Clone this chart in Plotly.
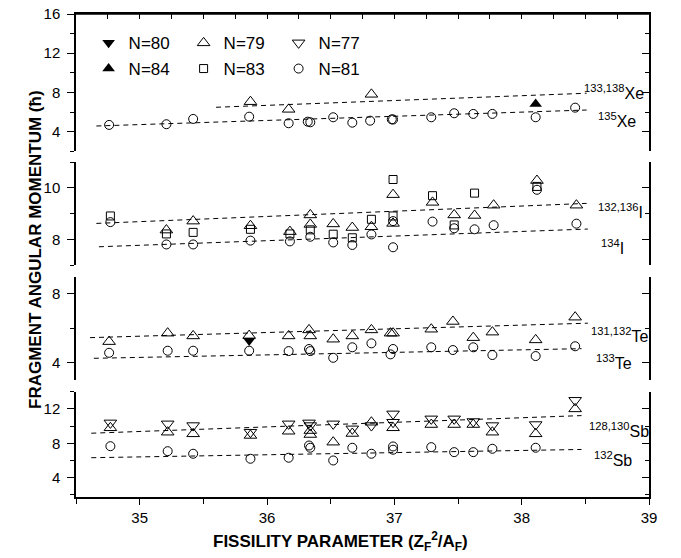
import plotly.graph_objects as go

# ---------------- data ----------------
# Xe panel
xe_x_n81 = [34.76, 35.21, 35.42, 35.86, 36.17, 36.32, 36.34, 36.52, 36.67, 36.81,
            36.98, 36.99, 37.29, 37.47, 37.62, 37.77, 38.11, 38.42]
xe_y_n81 = [4.69, 4.76, 5.30, 5.53, 4.86, 5.02, 4.96, 5.47, 4.92, 5.12,
            5.26, 5.24, 5.47, 5.88, 5.81, 5.81, 5.47, 6.45]
xe_x_n79 = [35.87, 36.17, 36.82]
xe_y_n79 = [7.06, 6.28, 7.81]
xe_x_n84 = [38.11]
xe_y_n84 = [6.83]

# I panel
i_x_n83 = [34.77, 35.21, 35.42, 35.87, 36.18, 36.34, 36.52, 36.67, 36.82, 36.99,
           36.99, 37.30, 37.47, 37.63, 38.12]
i_y_n83 = [8.91, 8.21, 8.27, 8.39, 8.21, 8.37, 8.20, 8.06, 8.78, 10.33,
           8.91, 9.70, 8.56, 9.80, 10.06]
i_x_n79 = [35.21, 35.42, 35.87, 36.18, 36.34, 36.34, 36.52, 36.67, 36.82, 36.99,
           36.99, 37.30, 37.47, 37.63, 37.78, 38.12, 38.43]
i_y_n79 = [8.36, 8.71, 8.53, 8.30, 8.95, 8.58, 8.60, 8.46, 8.49, 9.74,
           8.62, 9.44, 8.95, 8.93, 9.33, 10.29, 9.33]
i_x_n81 = [34.77, 35.21, 35.42, 35.87, 36.18, 36.34, 36.52, 36.67, 36.82, 36.99,
           36.99, 37.30, 37.47, 37.63, 37.78, 38.12, 38.43]
i_y_n81 = [8.67, 7.80, 7.80, 7.95, 7.92, 8.10, 7.88, 7.78, 8.19, 8.71,
           7.69, 8.69, 8.43, 8.39, 8.55, 9.93, 8.61]

# Te panel
te_x_n79 = [34.76, 35.22, 35.42, 35.86, 36.17, 36.33, 36.34, 36.52, 36.67, 36.82,
            36.97, 36.99, 37.29, 37.46, 37.62, 37.77, 38.11, 38.42]
te_y_n79 = [5.23, 5.72, 5.56, 5.58, 5.56, 5.91, 5.56, 5.37, 5.56, 5.91,
            5.72, 5.72, 5.95, 6.40, 5.46, 5.78, 5.33, 6.65]
te_x_n81 = [34.76, 35.22, 35.42, 35.86, 36.17, 36.33, 36.34, 36.52, 36.67, 36.82,
            36.97, 36.99, 37.29, 37.46, 37.62, 37.77, 38.11, 38.42]
te_y_n81 = [4.58, 4.70, 4.70, 4.70, 4.68, 4.80, 4.68, 4.29, 4.90, 5.13,
            4.49, 4.80, 4.90, 4.74, 4.90, 4.45, 4.39, 4.96]
te_x_n80 = [35.86]
te_y_n80 = [5.29]

# Sb panel
sb_x_n77 = [34.77, 35.22, 35.42, 35.87, 36.17, 36.33, 36.34, 36.52, 36.67, 36.82,
            36.99, 36.99, 37.29, 37.47, 37.62, 37.77, 38.11, 38.42]
sb_y_n77 = [10.37, 10.26, 10.06, 9.29, 10.26, 10.37, 10.06, 10.26, 9.68, 10.06,
            11.42, 10.45, 10.84, 10.84, 10.53, 10.06, 10.18, 13.00]
sb_x_n79 = [34.77, 35.22, 35.42, 35.87, 36.17, 36.34, 36.34, 36.52, 36.67, 36.82,
            36.99, 37.29, 37.47, 37.62, 37.77, 38.11, 38.42]
sb_y_n79 = [9.80, 9.29, 9.10, 8.91, 9.40, 9.48, 9.02, 8.13, 9.14, 10.45,
            9.80, 10.18, 10.18, 10.18, 9.29, 9.10, 12.00]
sb_x_n81 = [34.77, 35.22, 35.42, 35.87, 36.17, 36.33, 36.34, 36.52, 36.67, 36.82,
            36.99, 36.99, 37.29, 37.47, 37.62, 37.77, 38.11]
sb_y_n81 = [7.66, 7.08, 6.78, 6.20, 6.32, 7.74, 7.48, 6.00, 7.48, 6.78,
            7.63, 7.25, 7.55, 6.97, 6.97, 7.36, 7.48]

# dashed trend lines (end points)
fit_x = {
    "xe133": [35.60, 38.51], "xe135": [34.66, 38.51],
    "i132": [34.66, 38.51], "i134": [34.68, 38.52],
    "te131": [34.61, 38.52], "te133": [34.64, 38.47],
    "sb128": [34.62, 38.47], "sb132": [34.62, 38.47],
}
fit_y = {
    "xe133": [6.49, 7.92], "xe135": [4.58, 6.21],
    "i132": [8.62, 9.40], "i134": [7.71, 8.40],
    "te131": [5.46, 6.30], "te133": [4.26, 4.82],
    "sb128": [9.17, 11.22], "sb132": [6.32, 7.28],
}
fit_panel = {"xe133": 1, "xe135": 1, "i132": 2, "i134": 2,
             "te131": 3, "te133": 3, "sb128": 4, "sb132": 4}

# isotope labels: (text, panel, x, y)
iso_labels = [
    ("<sup>133,138</sup>Xe", 1, 38.47, 8.05),
    ("<sup>135</sup>Xe", 1, 38.58, 5.2),
    ("<sup>132,136</sup>I", 2, 38.58, 9.1),
    ("<sup>134</sup>I", 2, 38.61, 7.72),
    ("<sup>131,132</sup>Te", 3, 38.53, 5.6),
    ("<sup>133</sup>Te", 3, 38.57, 4.05),
    ("<sup>128,130</sup>Sb", 4, 38.51, 9.5),
    ("<sup>132</sup>Sb", 4, 38.55, 6.15),
]

FONT = "Arial, Liberation Sans, sans-serif"

fig = go.Figure()

def ax(p, kind):
    return kind if p == 1 else f"{kind}{p}"

sym = {
    "n80": dict(symbol="triangle-down", size=11, color="black"),
    "n84": dict(symbol="triangle-up", size=11, color="black"),
    "n79": dict(symbol="triangle-up-open", size=11, color="black", line=dict(width=1)),
    "n83": dict(symbol="square-open", size=8, color="black", line=dict(width=1)),
    "n77": dict(symbol="triangle-down-open", size=11, color="black", line=dict(width=1)),
    "n81": dict(symbol="circle-open", size=9, color="black", line=dict(width=1)),
}

# dashed lines
for k in fit_x:
    p = fit_panel[k]
    fig.add_trace(go.Scatter(x=fit_x[k], y=fit_y[k], mode="lines",
                             line=dict(color="black", width=1, dash="5px,4px"),
                             xaxis=ax(p, "x"), yaxis=ax(p, "y"),
                             showlegend=False, hoverinfo="skip"))

def pts(x, y, p, key, name, legend=None, rank=None):
    fig.add_trace(go.Scatter(x=x, y=y, mode="markers", marker=sym[key], name=name,
                             xaxis=ax(p, "x"), yaxis=ax(p, "y"),
                             showlegend=legend is not None,
                             legend=legend or "legend", legendrank=rank or 1000))

pts(xe_x_n81, xe_y_n81, 1, "n81", "N=81", "legend2", 3)
pts(xe_x_n79, xe_y_n79, 1, "n79", "N=79", "legend", 2)
pts(xe_x_n84, xe_y_n84, 1, "n84", "N=84", "legend2", 1)
pts(i_x_n81, i_y_n81, 2, "n81", "N=81")
pts(i_x_n79, i_y_n79, 2, "n79", "N=79")
pts(i_x_n83, i_y_n83, 2, "n83", "N=83", "legend2", 2)
pts(te_x_n81, te_y_n81, 3, "n81", "N=81")
pts(te_x_n79, te_y_n79, 3, "n79", "N=79")
pts(te_x_n80, te_y_n80, 3, "n80", "N=80", "legend", 1)
pts(sb_x_n81, sb_y_n81, 4, "n81", "N=81")
pts(sb_x_n79, sb_y_n79, 4, "n79", "N=79")
pts(sb_x_n77, sb_y_n77, 4, "n77", "N=77", "legend", 3)

# empty traces so the right-hand (inside-tick) axes and the top axis get drawn
for p in range(1, 5):
    fig.add_trace(go.Scatter(x=[], y=[], xaxis=ax(p, "x"), yaxis=f"y{p + 4}",
                             showlegend=False, hoverinfo="skip"))
fig.add_trace(go.Scatter(x=[], y=[], xaxis="x5", yaxis="y",
                         showlegend=False, hoverinfo="skip"))

for text, p, x, y in iso_labels:
    fig.add_annotation(x=x, y=y, xref=ax(p, "x"), yref=ax(p, "y"), text=text,
                       showarrow=False, xanchor="left", yanchor="middle",
                       font=dict(size=16, color="black", family=FONT))

# layout geometry (page margin is removed in the html, see post_script)
W, H = 681, 558
M_L, M_R, M_T, M_B = 76, 32, 14, 61
plot_h = H - M_T - M_B
def fy(px):
    # px measured on the reference picture
    return (M_T + plot_h - px) / plot_h

domains = {1: [fy(151.3), 1.0], 2: [fy(265), fy(162.3)],
           3: [fy(380), fy(276.7)], 4: [0.0, fy(391.7)]}
yranges = {1: [2, 16], 2: [7, 11], 3: [3, 9], 4: [1.75, 14]}
ydt = {1: 4, 2: 2, 3: 4, 4: 4}
ymin = {1: 2, 2: 1, 3: 2, 4: 2}

line_w = 1.5
layout = dict(
    width=W, height=H,
    margin=dict(l=M_L, r=M_R, t=M_T, b=M_B, autoexpand=False),
    plot_bgcolor="white", paper_bgcolor="white",
    font=dict(family=FONT, color="black", size=15),
    showlegend=True,
)

for p in range(1, 5):
    xa = dict(range=[34.5, 39], domain=[0, 1], anchor=ax(p, "y"), showgrid=False,
              zeroline=False, automargin=False)
    if p > 1:
        xa["matches"] = "x"
    if p == 4:
        xa.update(side="bottom", showline=True, linecolor="black", linewidth=line_w,
                  ticks="outside", ticklen=6, tickwidth=1, tickcolor="black",
                  dtick=1, tick0=35, showticklabels=True,
                  tickfont=dict(size=15), ticklabelstandoff=0,
                  ticklabeloverflow="allow",
                  minor=dict(dtick=0.5, ticks="outside", ticklen=5, tickcolor="black",
                             tickwidth=1))
    else:
        xa.update(showline=False, ticks="", showticklabels=False)
    layout[ax(p, "xaxis")] = xa

    ya = dict(range=yranges[p], domain=domains[p], anchor=ax(p, "x"), showgrid=False,
              zeroline=False, showline=True, linecolor="black", linewidth=line_w,
              ticks="outside", ticklen=7, tickwidth=1, tickcolor="black",
              dtick=ydt[p], tick0=0, tickfont=dict(size=15), ticklabelstandoff=4,
              automargin=False, ticklabeloverflow="allow",
              minor=dict(dtick=ymin[p], ticks="outside", ticklen=4, tickcolor="black",
                         tickwidth=1))
    layout[ax(p, "yaxis")] = ya
    layout[f"yaxis{p + 4}"] = dict(
        range=yranges[p], domain=domains[p], anchor=ax(p, "x"), overlaying=ax(p, "y"),
        side="right", showgrid=False, zeroline=False, showline=True, automargin=False,
        linecolor="black", linewidth=line_w, ticks="inside", ticklen=7, tickwidth=1,
        tickcolor="black", dtick=ydt[p], tick0=0, showticklabels=False,
        minor=dict(dtick=ymin[p], ticks="inside", ticklen=4, tickcolor="black",
                   tickwidth=1))

# top frame of the upper panel with inward ticks
layout["xaxis5"] = dict(range=[34.5, 39], matches="x", overlaying="x", anchor="y",
                        side="top", showline=True, linecolor="black", linewidth=line_w,
                        ticks="inside", ticklen=5, tickwidth=1, tickcolor="black",
                        dtick=0.25, tick0=35, showticklabels=False, showgrid=False,
                        zeroline=False, automargin=False)

leg = dict(orientation="h", xref="paper", yref="paper", xanchor="left",
           yanchor="middle", font=dict(size=17, family=FONT),
           bgcolor="rgba(0,0,0,0)", entrywidth=50, entrywidthmode="pixels",
           itemclick=False, itemdoubleclick=False)
layout["legend"] = dict(leg, x=0.022, y=fy(43.3))
layout["legend2"] = dict(leg, x=0.022, y=fy(69))

fig.update_layout(**layout)

# frame line along the top of the upper panel
fig.add_shape(type="line", xref="x domain", yref="y domain", x0=0, x1=1, y0=1, y1=1,
              line=dict(color="black", width=line_w), layer="above")

fig.add_annotation(text="FRAGMENT ANGULAR MOMENTUM (\u0127)", textangle=-90,
                   xref="paper", yref="paper", x=(35 - M_L) / 573, y=fy(250),
                   xanchor="center", yanchor="middle",
                   showarrow=False, font=dict(size=17, family=FONT, weight="bold"))
fig.add_annotation(text="FISSILITY PARAMETER (Z<sub>F</sub><sup>2</sup>/A<sub>F</sub>)",
                   xref="paper", yref="paper", x=(340.8 - M_L) / 573, y=fy(541),
                   xanchor="center", yanchor="middle",
                   showarrow=False, font=dict(size=17, family=FONT, weight="bold"))

fig.write_html("out.html", config={"displayModeBar": False},
               post_script="document.body.style.margin='0';")
